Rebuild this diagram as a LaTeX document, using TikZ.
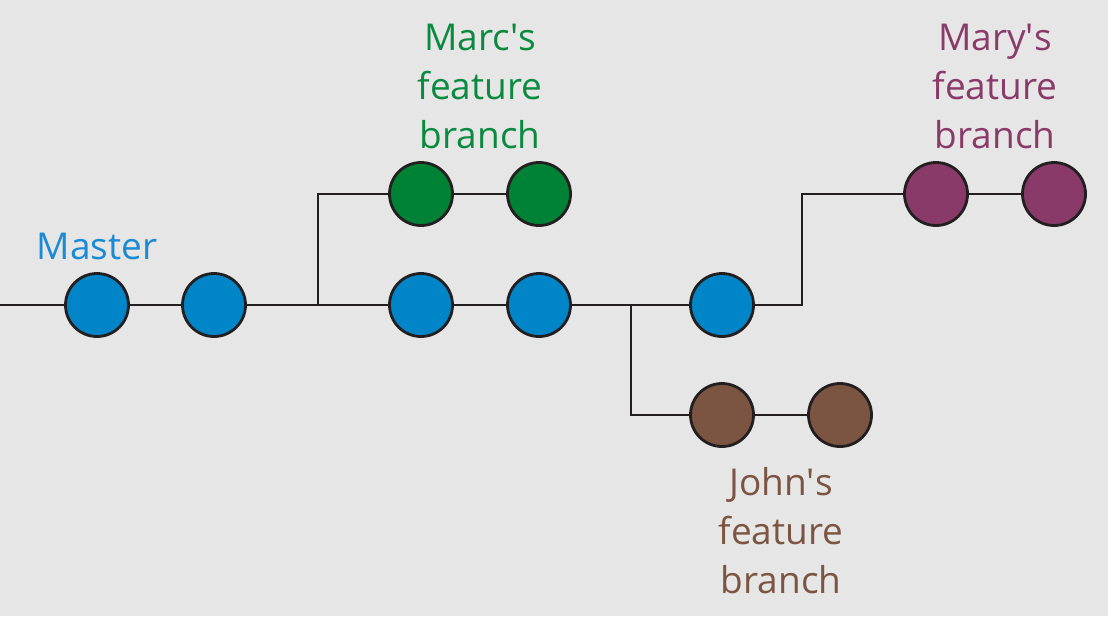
\documentclass[tikz,border=0pt]{standalone}
\usepackage{fontspec}
\setmainfont{Open Sans}
\definecolor{bg}{HTML}{E6E6E6}
\definecolor{cblue}{HTML}{0085C8}
\definecolor{tblue}{HTML}{1A8AD4}
\definecolor{cgreen}{HTML}{008236}
\definecolor{tgreen}{HTML}{0A8A3F}
\definecolor{cpurple}{HTML}{8A3A69}
\definecolor{cbrown}{HTML}{7B5542}
\definecolor{lk}{HTML}{231F20}
\begin{document}
\begin{tikzpicture}[x=1pt,y=-1pt,
  commit/.style={circle,draw=lk,line width=2.8pt,minimum size=63pt,inner sep=0pt},
  link/.style={draw=lk,line width=2.8pt},
  lbl/.style={align=center,font=\fontsize{37}{49}\selectfont,inner sep=0pt}]
\fill[bg] (0,0) rectangle (1108,616);
\useasboundingbox (0,0) rectangle (1108,616);
\node[commit,fill=cblue] (m1) at (97,305) {};
\node[commit,fill=cblue] (m2) at (214,305) {};
\node[commit,fill=cblue] (m3) at (421,305) {};
\node[commit,fill=cblue] (m4) at (539,305) {};
\node[commit,fill=cblue] (m5) at (722,305) {};
\node[commit,fill=cgreen] (g1) at (421,194) {};
\node[commit,fill=cgreen] (g2) at (539,194) {};
\node[commit,fill=cpurple] (p1) at (936,194) {};
\node[commit,fill=cpurple] (p2) at (1054,194) {};
\node[commit,fill=cbrown] (j1) at (722,415) {};
\node[commit,fill=cbrown] (j2) at (840,415) {};
\coordinate (s) at (0,305);
\coordinate (b1) at (318,305);
\coordinate (b2) at (631,305);
\coordinate (b3) at (802,305);
\draw[link] (s) -- (m1);
\draw[link] (m1) -- (m2);
\draw[link] (m2) -- (m3);
\draw[link] (m3) -- (m4);
\draw[link] (m4) -- (m5);
\draw[link] (b1) |- (g1);
\draw[link] (g1) -- (g2);
\draw[link] (b2) |- (j1);
\draw[link] (j1) -- (j2);
\draw[link] (m5) -- (b3) |- (p1);
\draw[link] (p1) -- (p2);
\node[lbl,text=tblue,anchor=base] (tm) at (97,259) {Master};
\node[lbl,text=tgreen] (tg) at (480,86) {Marc\textquotesingle s\\feature\\branch};
\node[lbl,text=cpurple] (tp) at (995,86) {Mary\textquotesingle s\\feature\\branch};
\node[lbl,text=cbrown] (tj) at (781,531) {John\textquotesingle s\\feature\\branch};
\end{tikzpicture}
\end{document}
